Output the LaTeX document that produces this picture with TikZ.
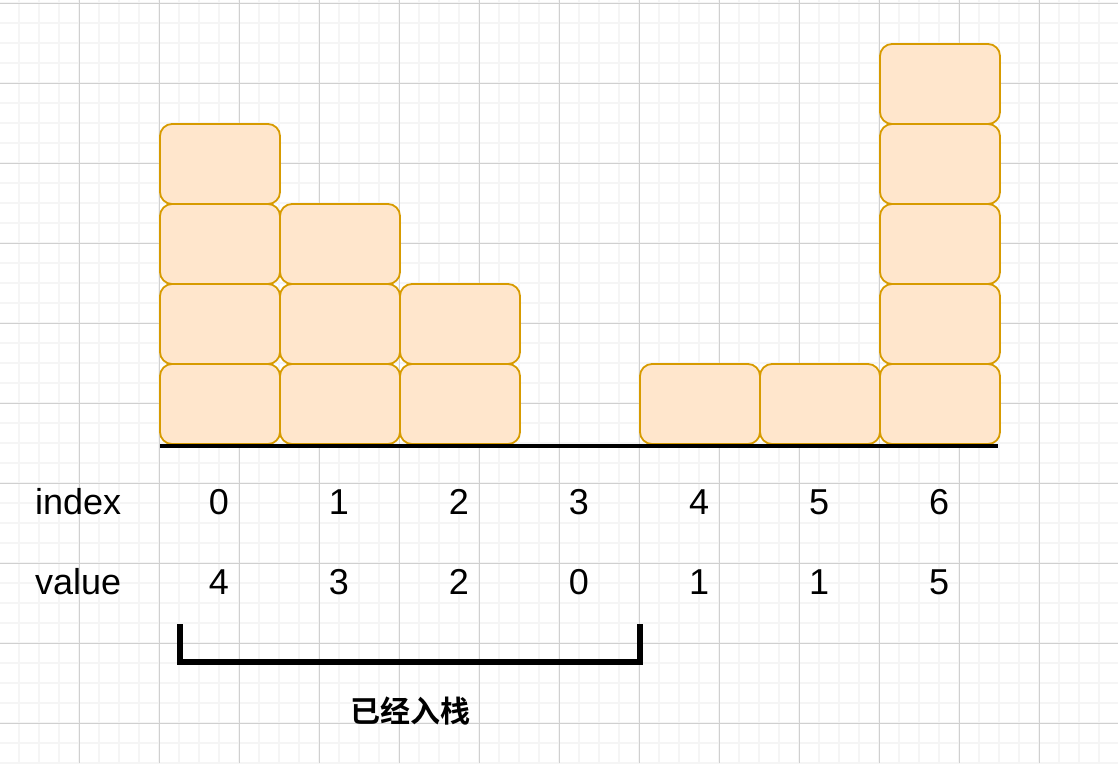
\documentclass[tikz,border=0pt]{standalone}
\usepackage{fontspec}
\setmainfont{Liberation Sans}
\newfontfamily\cjk{Noto Sans CJK SC}[BoldFont={Noto Sans CJK SC Bold}]
\definecolor{blkfill}{HTML}{FFE6CC}
\definecolor{blkdraw}{HTML}{D79B00}
\definecolor{gridmin}{HTML}{F5F5F5}
\definecolor{gridmaj}{HTML}{D0D0D0}
\begin{document}
\begin{tikzpicture}[x=1pt,y=-1pt,
  blk/.style={draw=blkdraw,fill=blkfill,line width=1.8pt,rounded corners=12pt,
    minimum width=120pt,minimum height=80pt,inner sep=0pt,outer sep=0pt},
  lbl/.style={font=\fontsize{36}{40}\selectfont,inner sep=0pt,anchor=base},
  nm/.style={font=\fontsize{36}{40}\selectfont,inner sep=0pt,anchor=base west}]
\useasboundingbox (0,0) rectangle (1118,763);
\fill[white] (0,0) rectangle (1118,763);
% minor grid
\foreach \x in {19,39,...,1118} \draw[gridmin,line width=1.1pt] (\x,0) -- (\x,763);
\foreach \y in {3,23,...,763} \draw[gridmin,line width=1.1pt] (0,\y) -- (1118,\y);
% major grid
\foreach \x in {79,159,...,1118} \draw[gridmaj,line width=0.8pt] (\x,0) -- (\x,763);
\foreach \y in {3,83,...,763} \draw[gridmaj,line width=0.8pt] (0,\y) -- (1118,\y);
% blocks
\foreach \c/\h in {0/4,1/3,2/2,4/1,5/1,6/5}{
  \foreach \r in {1,...,\h}{
    \node[blk] (b\c\r) at ({220+120*\c},{404-80*(\r-1)}) {};
  }
}
% baseline
\coordinate (gl) at (160,446);
\coordinate (gr) at (998,446);
\draw[line width=3.5pt] (gl) -- (gr);
% labels
\node[nm] (idx) at (35,514) {index};
\node[nm] (val) at (35,594) {value};
\foreach \c/\v in {0/4,1/3,2/2,3/0,4/1,5/1,6/5}{
  \node[lbl] (i\c) at ({219+120*\c},514) {\c};
  \node[lbl] (v\c) at ({219+120*\c},594) {\v};
}
% bracket
\coordinate (k1) at (180,624);
\coordinate (k2) at (180,662);
\coordinate (k3) at (640,662);
\coordinate (k4) at (640,624);
\draw[line width=5.5pt] (k1) -- (k2) -- (k3) -- (k4);
\node[font={\cjk\bfseries\fontsize{30}{34}\selectfont},inner sep=0pt] (stk) at (410,711) {已经入栈};
\end{tikzpicture}
\end{document}
